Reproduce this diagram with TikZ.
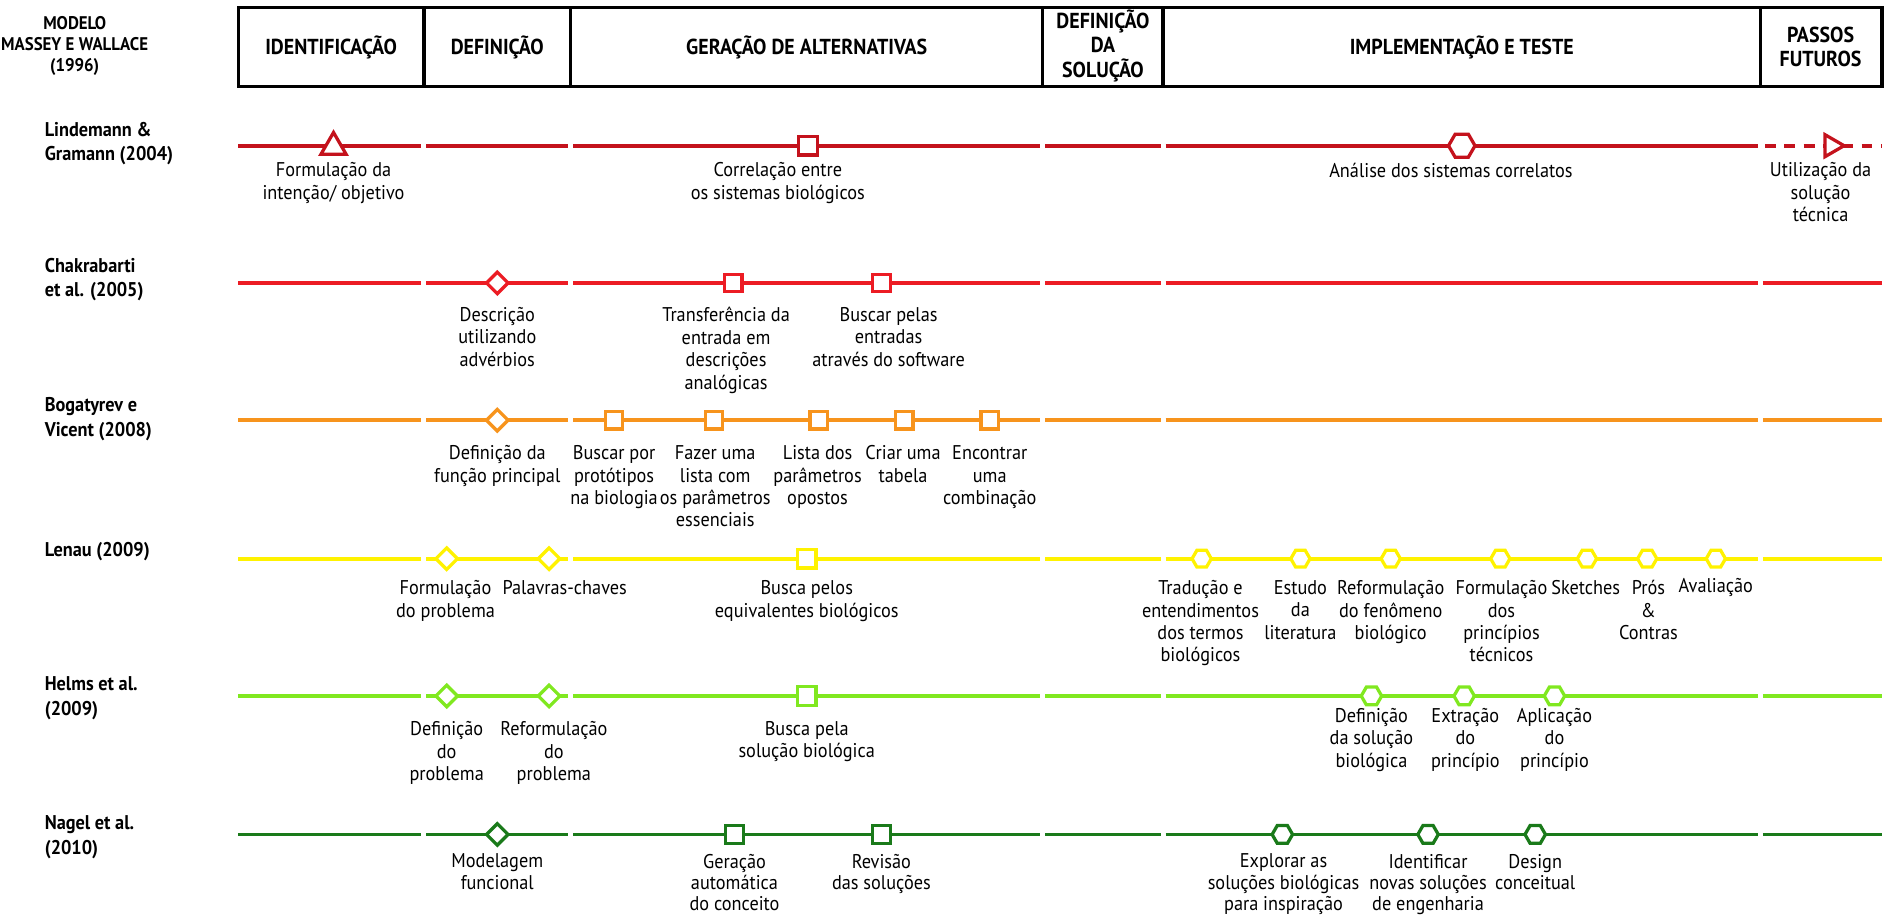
\documentclass[tikz,border=0pt]{standalone}
\usepackage{fontspec}
\setmainfont[FakeStretch=0.92]{PT Sans}
\usetikzlibrary{shapes.geometric}
\definecolor{cLind}{RGB}{196,18,28}
\definecolor{cChak}{RGB}{236,28,36}
\definecolor{cBog}{RGB}{247,148,29}
\definecolor{cLen}{RGB}{255,242,0}
\definecolor{cHelms}{RGB}{128,232,32}
\definecolor{cNagel}{RGB}{26,122,26}
% one coloured track, broken at every phase boundary
\newcommand\trackline[2]{%
  \foreach \a/\b in {198/350,354/472,476/864,868/964,968/1460,1464/1563}
    \draw[seg,#2] (\a,#1) -- (\b,#1);}
\begin{document}
\begin{tikzpicture}[x=1pt,y=-1pt,
  seg/.style={line width=3pt},
  frame/.style={line width=2.8pt},
  mk/.style={draw, fill=white, line width=2.7pt, inner sep=0pt},
  sq/.style={mk, rectangle, minimum size=14.5pt},
  dia/.style={mk, diamond, minimum width=19pt, minimum height=19pt},
  hexa/.style={mk, regular polygon, regular polygon sides=6, minimum size=16pt},
  bighexa/.style={hexa, minimum size=22pt},
  tri/.style={mk, regular polygon, regular polygon sides=3, minimum size=24pt},
  lbl/.style={anchor=north, align=center, inner sep=0pt, font=\fontsize{16.5}{18.6}\selectfont},
  lowlbl/.style={lbl, font=\fontsize{16.5}{17.8}\selectfont},
  who/.style={anchor=north west, align=left, inner sep=0pt, font=\fontsize{16.5}{20.5}\selectfont\bfseries},
  hd/.style={align=center, inner sep=0pt, font=\fontsize{18}{20.5}\selectfont\bfseries},
]
\useasboundingbox (0,0) rectangle (1568,763);

% ---- phase header (Massey & Wallace model)
\node[align=center, inner sep=0pt, font=\fontsize{15.2}{17.5}\selectfont\bfseries] (model) at (62,38) {MODELO\\MASSEY E WALLACE\\(1996)};
\draw[frame] (198,6) rectangle (1563,72);
\foreach \d in {352,474,866,966,1462} \draw[frame] (\d,6) -- (\d,72);
\node[hd] (hIdent) at (275,39) {IDENTIFICAÇÃO};
\node[hd] (hDef) at (413,39) {DEFINIÇÃO};
\node[hd] (hGer) at (670,39) {GERAÇÃO DE ALTERNATIVAS};
\node[hd] (hSol) at (916,38) {DEFINIÇÃO\\DA\\SOLUÇÃO};
\node[hd] (hImp) at (1214,39) {IMPLEMENTAÇÃO E TESTE};
\node[hd] (hFut) at (1512,39) {PASSOS\\FUTUROS};

% ---- method names
\node[who] (wLind) at (37,101) {Lindemann \&\\Gramann (2004)};
\node[who] (wChak) at (37,214) {Chakrabarti\\et al. (2005)};
\node[who] (wBog) at (37,330) {Bogatyrev e\\Vicent (2008)};
\node[who] (wLen) at (37,450) {Lenau (2009)};
\node[who] (wHelms) at (37,562) {Helms et al.\\(2009)};
\node[who] (wNagel) at (37,677) {Nagel et al.\\(2010)};

% ---- tracks
\foreach \a/\b in {198/350,354/472,476/864,868/964,968/1460}
  \draw[seg,cLind] (\a,121) -- (\b,121);
\draw[seg,cLind,dash pattern=on 9pt off 7pt] (1466,121) -- (1563,121);
\trackline{235}{cChak}
\trackline{349}{cBog}
\trackline{464}{cLen}
\trackline{578}{cHelms}
\trackline{693}{cNagel}

% ---- Lindemann & Gramann
\node[tri, draw=cLind] (m11) at (277,122) {};
\node[sq, draw=cLind, minimum size=15.5pt] (m12) at (671,121) {};
\node[bighexa, draw=cLind] (m13) at (1214,121) {};
\node[tri, draw=cLind, minimum size=21pt, rotate=-90] (m14) at (1521,121) {};
\node[lbl] (t11) at (277,135) {Formulação da\\intenção/ objetivo};
\node[lbl] (t12) at (646,135) {Correlação entre\\os sistemas biológicos};
\node[lbl] (t13) at (1205,135) {Análise dos sistemas correlatos};
\node[lbl] (t14) at (1512,135) {Utilização da\\solução\\técnica};

% ---- Chakrabarti et al.
\node[dia, draw=cChak] (m21) at (413,235) {};
\node[sq, draw=cChak] (m22) at (609,235) {};
\node[sq, draw=cChak] (m23) at (732,235) {};
\node[lbl] (t21) at (413,255) {Descrição\\utilizando\\advérbios};
\node[lbl] (t22) at (603,255) {Transferência da\\entrada em\\descrições\\analógicas};
\node[lbl] (t23) at (738,255) {Buscar pelas\\entradas\\através do software};

% ---- Bogatyrev e Vicent
\node[dia, draw=cBog] (m31) at (413,349) {};
\node[sq, draw=cBog] (m32) at (510,349) {};
\node[sq, draw=cBog] (m33) at (593,349) {};
\node[sq, draw=cBog] (m34) at (680,349) {};
\node[sq, draw=cBog] (m35) at (751,349) {};
\node[sq, draw=cBog] (m36) at (822,349) {};
\node[lbl] (t31) at (413,370) {Definição da\\função principal};
\node[lbl] (t32) at (510,370) {Buscar por\\protótipos\\na biologia};
\node[lbl] (t33) at (594,370) {Fazer uma\\lista com\\os parâmetros\\essenciais};
\node[lbl] (t34) at (679,370) {Lista dos\\parâmetros\\opostos};
\node[lbl] (t35) at (750,370) {Criar uma\\tabela};
\node[lbl] (t36) at (822,370) {Encontrar\\uma\\combinação};

% ---- Lenau
\node[dia, draw=cLen] (m41) at (371,464) {};
\node[dia, draw=cLen] (m42) at (456,464) {};
\node[sq, draw=cLen, minimum size=15.5pt] (m43) at (670,464) {};
\node[hexa, draw=cLen] (m44) at (998,464) {};
\node[hexa, draw=cLen] (m45) at (1080,464) {};
\node[hexa, draw=cLen] (m46) at (1155,464) {};
\node[hexa, draw=cLen] (m47) at (1246,464) {};
\node[hexa, draw=cLen] (m48) at (1318,464) {};
\node[hexa, draw=cLen] (m49) at (1368,464) {};
\node[hexa, draw=cLen] (m4a) at (1425,464) {};
\node[lbl] (t41) at (370,482) {Formulação\\do problema};
\node[lbl] (t42) at (469,482) {Palavras-chaves};
\node[lbl] (t43) at (670,482) {Busca pelos\\equivalentes biológicos};
\node[lbl] (t44) at (997,482) {Tradução e\\entendimentos\\dos termos\\biológicos};
\node[lbl] (t45) at (1080,482) {Estudo\\da\\literatura};
\node[lbl] (t46) at (1155,482) {Reformulação\\do fenômeno\\biológico};
\node[lbl] (t47) at (1247,482) {Formulação\\dos\\princípios\\técnicos};
\node[lbl] (t48) at (1317,482) {Sketches};
\node[lbl] (t49) at (1369,482) {Prós\\\&\\Contras};
\node[lbl] (t4a) at (1425,480) {Avaliação};

% ---- Helms et al.
\node[dia, draw=cHelms] (m51) at (371,578) {};
\node[dia, draw=cHelms] (m52) at (456,578) {};
\node[sq, draw=cHelms, minimum size=15.5pt] (m53) at (670,578) {};
\node[hexa, draw=cHelms, minimum size=17pt] (m54) at (1139,578) {};
\node[hexa, draw=cHelms, minimum size=17pt] (m55) at (1216,578) {};
\node[hexa, draw=cHelms, minimum size=17pt] (m56) at (1291,578) {};
\node[lbl] (t51) at (371,599) {Definição\\do\\problema};
\node[lbl] (t52) at (460,599) {Reformulação\\do\\problema};
\node[lbl] (t53) at (670,599) {Busca pela\\solução biológica};
\node[lbl] (t54) at (1139,588) {Definição\\da solução\\biológica};
\node[lbl] (t55) at (1217,588) {Extração\\do\\princípio};
\node[lbl] (t56) at (1291,588) {Aplicação\\do\\princípio};

% ---- Nagel et al.
\node[dia, draw=cNagel] (m61) at (413,693) {};
\node[sq, draw=cNagel] (m62) at (610,693) {};
\node[sq, draw=cNagel] (m63) at (732,693) {};
\node[hexa, draw=cNagel, minimum size=17pt] (m64) at (1065,693) {};
\node[hexa, draw=cNagel, minimum size=17pt] (m65) at (1186,693) {};
\node[hexa, draw=cNagel, minimum size=17pt] (m66) at (1275,693) {};
\node[lowlbl] (t61) at (413,709) {Modelagem\\funcional};
\node[lowlbl] (t62) at (610,709) {Geração\\automática\\do conceito};
\node[lowlbl] (t63) at (732,709) {Revisão\\das soluções};
\node[lowlbl] (t64) at (1066,709) {Explorar as\\soluções biológicas\\para inspiração};
\node[lowlbl] (t65) at (1186,709) {Identificar\\novas soluções\\de engenharia};
\node[lowlbl] (t66) at (1275,709) {Design\\conceitual};
\end{tikzpicture}
\end{document}
